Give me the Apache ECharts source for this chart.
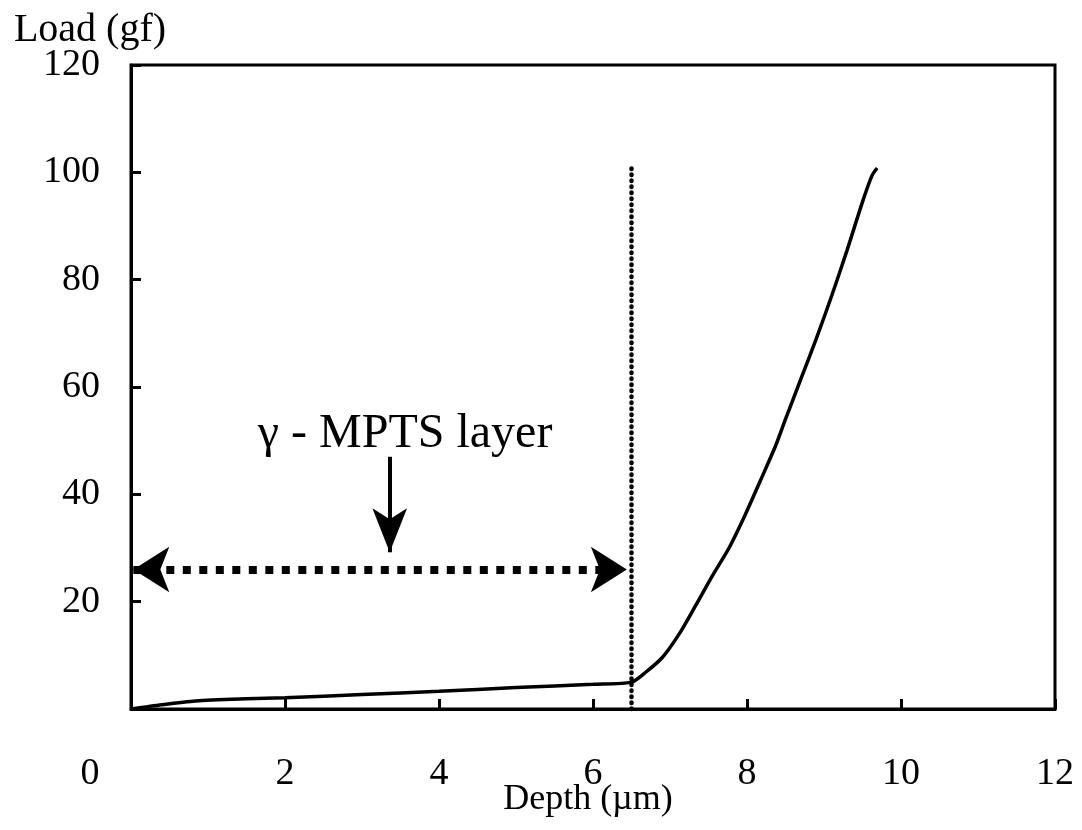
<!DOCTYPE html>
<html>
<head>
<meta charset="utf-8">
<title>Load vs Depth</title>
<script src="https://cdn.jsdelivr.net/npm/echarts@6/dist/echarts.min.js"></script>
<style>
  html, body { margin: 0; padding: 0; background: #fff; }
  #chart { width: 1082px; height: 830px; }
</style>
</head>
<body>
<div id="chart"></div>
<script>
// Indentation curve: depth (µm) against load (gf)
const depth = [0, 0.4, 0.84, 1.5, 2, 3, 4, 5, 6, 6.5, 6.68, 6.9, 7.12, 7.33, 7.55, 7.77, 7.98, 8.2, 8.37, 8.5, 8.7, 8.9, 9.1, 9.3, 9.5, 9.62, 9.69];
const load  = [0, 0.8, 1.5, 1.9, 2.1, 2.7, 3.3, 4.0, 4.6, 5.0, 6.8, 9.6, 14.0, 19.2, 24.8, 30.1, 36.3, 43.4, 49.0, 54.0, 61.5, 69.0, 77.0, 85.5, 94.5, 99.3, 100.8];

// Axis ranges and tick steps
const xRange = [0, 12], xStep = 2;
const yRange = [0, 120], yStep = 20;

// Layer annotation (data coordinates)
const layerEdge = 6.5;          // depth where the coating ends
const layerEdgeTop = 101;       // top of the dotted boundary line
const spanLoad = 26;            // height of the double-headed span arrow
const spanFrom = 0.03;
const spanTo = 6.44;
const pointerFrom = [3.36, 47]; // short downward pointer
const pointerTo = [3.36, 29.2];
const layerLabel = 'γ - MPTS layer';
const layerLabelAt = [3.56, 51.2];

const FONT = '"Liberation Serif", "DejaVu Serif", serif';

const chart = echarts.init(document.getElementById('chart'), null, { renderer: 'canvas' });

const option = {
  backgroundColor: '#fff',
  animation: false,
  grid: {
    left: 131, right: 27, top: 65, bottom: 121,
    outerBoundsMode: 'none',
    containLabel: false,
    show: true, borderColor: '#000', borderWidth: 3, backgroundColor: 'transparent'
  },
  xAxis: {
    type: 'value',
    min: xRange[0], max: xRange[1], interval: xStep,
    name: 'Depth (µm)',
    nameLocation: 'middle',
    nameGap: 73,
    nameMoveOverlap: false,
    nameTextStyle: { fontFamily: FONT, fontSize: 36, color: '#000', padding: [0, 10, 0, 0] },
    axisLine: { show: true, lineStyle: { color: '#000', width: 3 } },
    axisTick: { show: true, inside: true, length: 10, lineStyle: { color: '#000', width: 3 } },
    splitLine: { show: false },
    axisLabel: {
      margin: 46,
      fontFamily: FONT, fontSize: 38, color: '#000',
      formatter: v => (v === 0 ? '{z|0}' : String(v)),
      rich: { z: { fontFamily: FONT, fontSize: 38, color: '#000', padding: [0, 82, 0, 0] } }
    }
  },
  yAxis: {
    type: 'value',
    min: yRange[0], max: yRange[1], interval: yStep,
    name: 'Load (gf)',
    nameLocation: 'end',
    nameGap: 35,
    nameMoveOverlap: false,
    nameTextStyle: {
      fontFamily: FONT, fontSize: 40, color: '#000',
      align: 'center', verticalAlign: 'middle', padding: [0, 82, 0, 0]
    },
    axisLine: { show: true, lineStyle: { color: '#000', width: 3 } },
    axisTick: { show: true, inside: true, length: 10, lineStyle: { color: '#000', width: 3 } },
    splitLine: { show: false },
    axisLabel: {
      margin: 31,
      fontFamily: FONT, fontSize: 38, color: '#000',
      formatter: v => (v === 0 ? '' : String(v))
    }
  },
  series: [
    {
      name: 'Load',
      type: 'line',
      data: depth.map((d, i) => [d, load[i]]),
      showSymbol: false,
      smooth: 0.25,
      lineStyle: { color: '#000', width: 3.5 },
      z: 5,
      markLine: {
        silent: true, animation: false,
        symbol: ['none', 'none'],
        label: { show: false },
        lineStyle: { color: '#000', width: 4.5, type: [0.5, 5.5], cap: 'round' },
        data: [[{ coord: [layerEdge, 0] }, { coord: [layerEdge, layerEdgeTop] }]]
      }
    },
    {
      name: 'span',
      type: 'line',
      data: [],
      markLine: {
        silent: true, animation: false,
        symbol: ['arrow', 'arrow'],
        symbolSize: [34, 36],
        label: { show: false },
        lineStyle: { color: '#000', width: 8, type: [8, 8.5], cap: 'butt' },
        data: [[{ coord: [spanFrom, spanLoad] }, { coord: [spanTo, spanLoad] }]]
      }
    },
    {
      name: 'pointer',
      type: 'line',
      data: [],
      markLine: {
        silent: true, animation: false,
        symbol: ['none', 'arrow'],
        symbolSize: [26, 44],
        label: { show: false },
        lineStyle: { color: '#000', width: 4, type: 'solid' },
        data: [[{ coord: pointerFrom }, { coord: pointerTo }]]
      }
    }
  ]
};

chart.setOption(option);

// Annotation text placed at a data position
const p = chart.convertToPixel({ gridIndex: 0 }, layerLabelAt);
chart.setOption({
  graphic: [{
    type: 'text',
    x: p[0], y: p[1],
    silent: true,
    style: {
      text: layerLabel,
      fontFamily: FONT, fontSize: 48, fill: '#000',
      textAlign: 'center', textVerticalAlign: 'middle'
    }
  }]
});
</script>
</body>
</html>
